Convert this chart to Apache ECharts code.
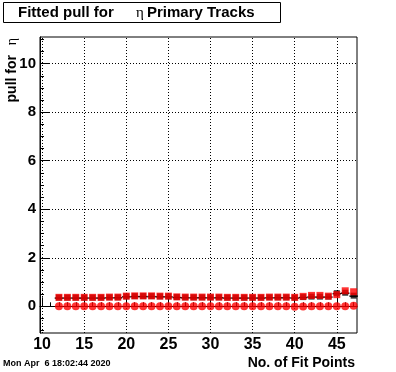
<!DOCTYPE html>
<html>
<head>
<meta charset="utf-8">
<script src="https://cdn.jsdelivr.net/npm/echarts@6/dist/echarts.min.js"></script>
<style>
html,body{margin:0;padding:0;background:#fff;}
#chart{width:396px;height:372px;}
</style>
</head>
<body>
<div id="chart"></div>
<script>
// ---- data ----
const fitPoints = [12,13,14,15,16,17,18,19,20,21,22,23,24,25,26,27,28,29,30,31,32,33,34,35,36,37,38,39,40,41,42,43,44,45,46,47];
const sigmaRed = [0.37,0.37,0.37,0.37,0.37,0.37,0.38,0.38,0.42,0.43,0.43,0.43,0.42,0.42,0.39,0.38,0.38,0.38,0.38,0.38,0.37,0.37,0.37,0.37,0.37,0.38,0.38,0.38,0.37,0.41,0.45,0.45,0.42,0.48,0.64,0.60];
const sigmaBlack = [0.36,0.36,0.36,0.36,0.36,0.36,0.37,0.37,0.41,0.42,0.42,0.42,0.41,0.41,0.38,0.37,0.37,0.37,0.37,0.37,0.36,0.36,0.36,0.36,0.36,0.37,0.37,0.37,0.36,0.38,0.40,0.40,0.40,0.54,0.56,0.44];
const meanRed = [0,0,0,0,0,0,0,0,0,0,0,0,0,0,0,0,0,0,0,0,0,0,0,0,0,0,0,0,-0.02,-0.01,0,0,0,0,0,0.02];
const xMajorTicks = [10,15,20,25,30,35,40,45];
const yMajorTicks = [0,2,4,6,8,10];
const xMinorTicks = [];
for (let v = 10; v <= 47; v++) xMinorTicks.push(v);
const yMinorTicks = [];
for (let v = -1; v <= 11; v += 0.5) yMinorTicks.push(v);
const titleText = 'Fitted pull for';
const titleEta = 'η';
const titleText2 = 'Primary Tracks';
const xTitle = 'No. of Fit Points';
const yTitle = 'pull for';
const dateText = 'Mon Apr  6 18:02:44 2020';

const X_MIN = 9.75, X_MAX = 47.4, Y_MIN = -1.1, Y_MAX = 11.1;
const FONT = '"Liberation Sans", Arial, sans-serif';
const SERIF = '"Liberation Serif", "Times New Roman", serif';

const pair = (xs, ys) => xs.map((x, i) => [x, ys[i]]);

const chart = echarts.init(document.getElementById('chart'), null, {renderer: 'canvas'});

const gridLines = [];
xMajorTicks.forEach(v => gridLines.push({xAxis: v}));
yMajorTicks.forEach(v => gridLines.push({yAxis: v}));

const option = {
  animation: false,
  backgroundColor: '#fff',
  grid: {left: 40, right: 39, top: 37, bottom: 39, show: true, borderColor: '#000', borderWidth: 1, backgroundColor: 'transparent'},
  xAxis: [
    {
      type: 'value', min: X_MIN, max: X_MAX, position: 'bottom',
      axisLine: {show: true, lineStyle: {color: '#000', width: 1}},
      axisTick: {show: true, inside: true, length: 9, customValues: xMajorTicks, lineStyle: {color: '#000'}},
      axisLabel: {show: true, customValues: xMajorTicks, margin: 4, color: '#000', fontFamily: FONT, fontWeight: 'bold', fontSize: 16},
      splitLine: {show: false}
    },
    {
      type: 'value', min: X_MIN, max: X_MAX, position: 'bottom',
      axisLine: {show: false},
      axisTick: {show: true, inside: true, length: 4, customValues: xMinorTicks, lineStyle: {color: '#000'}},
      axisLabel: {show: false},
      splitLine: {show: false}
    }
  ],
  yAxis: [
    {
      type: 'value', min: Y_MIN, max: Y_MAX, position: 'left',
      axisLine: {show: true, lineStyle: {color: '#000', width: 1}},
      axisTick: {show: true, inside: true, length: 9, customValues: yMajorTicks, lineStyle: {color: '#000'}},
      axisLabel: {show: true, customValues: yMajorTicks, margin: 4, color: '#000', fontFamily: FONT, fontWeight: 'bold', fontSize: 15},
      splitLine: {show: false}
    },
    {
      type: 'value', min: Y_MIN, max: Y_MAX, position: 'left',
      axisLine: {show: false},
      axisTick: {show: true, inside: true, length: 4, customValues: yMinorTicks, lineStyle: {color: '#000'}},
      axisLabel: {show: false},
      splitLine: {show: false}
    }
  ],
  series: [
    {
      type: 'line', data: [], xAxisIndex: 0, yAxisIndex: 0, silent: true,
      markLine: {
        symbol: 'none', silent: true, animation: false, label: {show: false},
        lineStyle: {type: [1, 2], color: '#000', width: 1},
        emphasis: {disabled: true},
        data: gridLines
      }
    },
    {
      type: 'custom', name: 'errBlack', xAxisIndex: 0, yAxisIndex: 0,
      data: pair(fitPoints, sigmaBlack),
      renderItem: function (params, api) {
        const x = api.value(0), y = api.value(1);
        const p1 = api.coord([x - 0.5, y]);
        const p2 = api.coord([x + 0.5, y]);
        return {type: 'line', shape: {x1: p1[0], y1: p1[1] + 0.5, x2: p2[0], y2: p2[1] + 0.5}, style: {stroke: '#000', lineWidth: 1.5}};
      },
      z: 3
    },
    {
      type: 'scatter', name: 'sigmaBlack', data: pair(fitPoints, sigmaBlack),
      symbol: 'rect', symbolSize: 6, itemStyle: {color: '#000'}, z: 4
    },
    {
      type: 'scatter', name: 'sigmaRed', data: pair(fitPoints, sigmaRed),
      symbol: 'rect', symbolSize: 7, itemStyle: {color: '#ff0000'}, z: 5
    },
    {
      type: 'scatter', name: 'meanRed', data: pair(fitPoints, meanRed),
      symbol: 'circle', symbolSize: 8, itemStyle: {color: '#ff0000'}, z: 5
    }
  ],
  graphic: [
    {type: 'rect', shape: {x: 3.5, y: 2.5, width: 277, height: 20}, style: {fill: '#fff', stroke: '#000', lineWidth: 1}, z: 10},
    {type: 'text', x: 18, y: 13, style: {text: titleText, font: 'bold 15px ' + FONT, fill: '#000', verticalAlign: 'middle'}, z: 11},
    {type: 'text', x: 136, y: 13, style: {text: titleEta, font: '15px ' + SERIF, fill: '#000', verticalAlign: 'middle'}, z: 11},
    {type: 'text', x: 147, y: 13, style: {text: titleText2, font: 'bold 15px ' + FONT, fill: '#000', verticalAlign: 'middle'}, z: 11},
    {type: 'text', x: 355, y: 363, style: {text: xTitle, font: 'bold 14px ' + FONT, fill: '#000', align: 'right', verticalAlign: 'middle'}, z: 11},
    {type: 'group', x: 12, y: 38, rotation: Math.PI / 2, z: 11, children: [
      {type: 'text', x: 0, y: 0, style: {text: titleEta, font: '14px ' + SERIF, fill: '#000', align: 'right', verticalAlign: 'middle'}},
      {type: 'text', x: -17, y: 0, style: {text: yTitle, font: 'bold 14px ' + FONT, fill: '#000', align: 'right', verticalAlign: 'middle'}}
    ]},
    {type: 'text', x: 3, y: 364, style: {text: dateText, font: 'bold 9px ' + FONT, fill: '#000', verticalAlign: 'middle'}, z: 11}
  ]
};
chart.setOption(option);
</script>
</body>
</html>
